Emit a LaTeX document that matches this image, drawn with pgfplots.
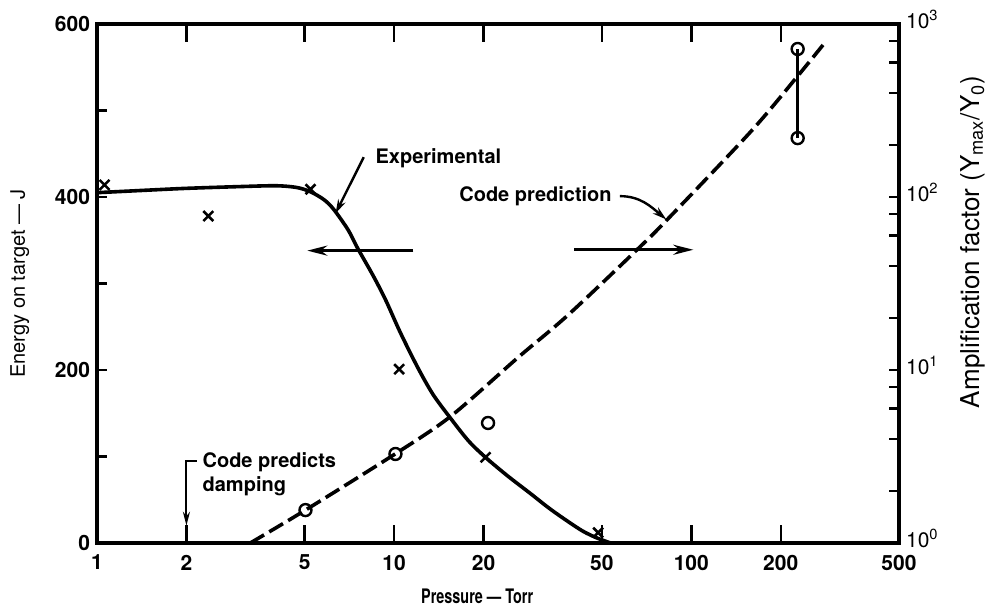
\documentclass[border=0pt]{standalone}
\usepackage{fontspec}
\setmainfont{TeX Gyre Heros}
\usepackage{graphicx}
\usepackage{pgfplots}
\pgfplotsset{compat=1.18}
\usetikzlibrary{arrows.meta,calc}

% experimental energy (left axis)
\pgfplotstableread{
x y
1.00 405
1.5 408
2.00 410
3.00 412
4.00 413
4.70 411
5.23 406
5.80 397
6.25 386
7.00 362
7.53 341
8.50 309
9.36 281
10.5 243
12.0 203
13.5 172
15.5 144
17.8 118
20.3 99
24.0 78
28.8 57
33.0 41
37.3 28
43.0 14
48.0 6
53.5 0
}\expcurve
\pgfplotstableread{
x y
1.06 414
2.37 378
5.23 409
10.4 201
20.3 99
48.6 12
}\exppts
% code prediction, amplification factor (right axis)
\pgfplotstableread{
x y
3.28 1.00
5.03 1.55
10.1 3.28
15.5 5.40
26.1 11.8
38.5 20.8
66.8 51
83.6 75
159 240
228 500
281 777
}\codecurve
\pgfplotstableread{
x y
5.03 1.55
10.1 3.27
20.7 4.94
228 717
228 219
}\codepts

\begin{document}
\begin{tikzpicture}
\pgfplotsset{
  every axis/.append style={
    scale only axis, width=401pt, height=259.5pt,
    xmode=log, xmin=1, xmax=500,
    axis line style={line width=1.8pt},
    tick align=inside,
    tick style={line width=1.2pt, black},
  },
}
\begin{axis}[name=ax,
  ymin=0, ymax=600,
  xtick={1,2,5,10,20,50,100,200,500},
  xticklabels={1,2,5,10,20,50,100,200,500},
  minor xtick={},
  xtick style={/pgfplots/major tick length=9pt},
  ytick={0,200,400,600}, yticklabels={0,200,400,600},
  minor ytick={100,300,500},
  ytick style={/pgfplots/major tick length=5pt},
  minor tick length=5pt,
  ytick pos=left,
  ticklabel style={font=\bfseries\fontsize{10.5}{12}\selectfont},
  xticklabel style={yshift=-2.5pt},
  xlabel={\scalebox{0.72}[1]{\bfseries\fontsize{10}{12}\selectfont Pressure --- Torr}},
  xlabel style={at={(ticklabel cs:0.474,2.5pt)}},
  ylabel={Energy on target --- J},
  ylabel style={font=\fontsize{10}{12}\selectfont, at={(ticklabel cs:0.5,6pt)}},
]
\addplot[line width=1.8pt, smooth] table {\expcurve};
\addplot[only marks, mark=x, mark size=3.5pt, line width=1.3pt] table {\exppts};

\node[anchor=west, font=\bfseries\fontsize{10}{12}\selectfont] at (axis cs:8.2,445) {Experimental};
\draw[line width=1.2pt, -{Stealth[length=7pt,width=4pt]}] (axis cs:7.9,446) -- (axis cs:6.35,381);
\node[anchor=east, font=\bfseries\fontsize{10}{12}\selectfont] at (axis cs:57,401) {Code prediction};
\draw[line width=1.2pt, -{Stealth[length=7pt,width=4pt]}] (axis cs:57.5,401) to[out=0,in=140] (axis cs:82.4,374);
\draw[line width=1.5pt, -{Stealth[length=10pt,width=5pt]}] (axis cs:11.6,338) -- (axis cs:5.1,338);
\draw[line width=1.5pt, -{Stealth[length=10pt,width=5pt]}] (axis cs:40.3,339) -- (axis cs:101.6,339);
\node[anchor=west, align=left, inner sep=0pt, font=\bfseries\fontsize{10}{12}\selectfont] at (axis cs:2.26,79) {Code predicts\\damping};
\draw[line width=1pt, -{Stealth[length=7pt,width=3.5pt]}] (axis cs:2.17,95) -- (axis cs:2,95) -- (axis cs:2,20);
\end{axis}

\begin{axis}[
  ymode=log, ymin=1, ymax=1000,
  axis x line=none, axis y line*=right,
  ytick={1,10,100,1000},
  yticklabels={10\textsuperscript{0},10\textsuperscript{1},10\textsuperscript{2},10\textsuperscript{3}},
  minor ytick={2,4,6,8,20,40,60,80,200,400,600,800},
  major tick length=5pt, minor tick length=5pt,
  ticklabel style={font=\fontsize{10.5}{12}\selectfont},
  yticklabel style={yshift=2.5pt},
  ylabel={Amplification factor (Y\textsubscript{max}/Y\textsubscript{0})},
  ylabel style={font=\fontsize{13}{15}\selectfont, at={(ticklabel cs:0.58,4pt)}},
]
\addplot[line width=1.8pt, dash pattern=on 8pt off 3pt, smooth] table {\codecurve};
\addplot[line width=1.2pt] coordinates {(228,219) (228,717)};
\addplot[only marks, mark=o, mark size=3pt, line width=1.2pt, mark options={fill=white}] table {\codepts};
\end{axis}

\pgfresetboundingbox
\path[use as bounding box] ($(ax.south west)+(-48.5pt,-33pt)$) rectangle ($(ax.north east)+(47.5pt,12pt)$);
\end{tikzpicture}
\end{document}
